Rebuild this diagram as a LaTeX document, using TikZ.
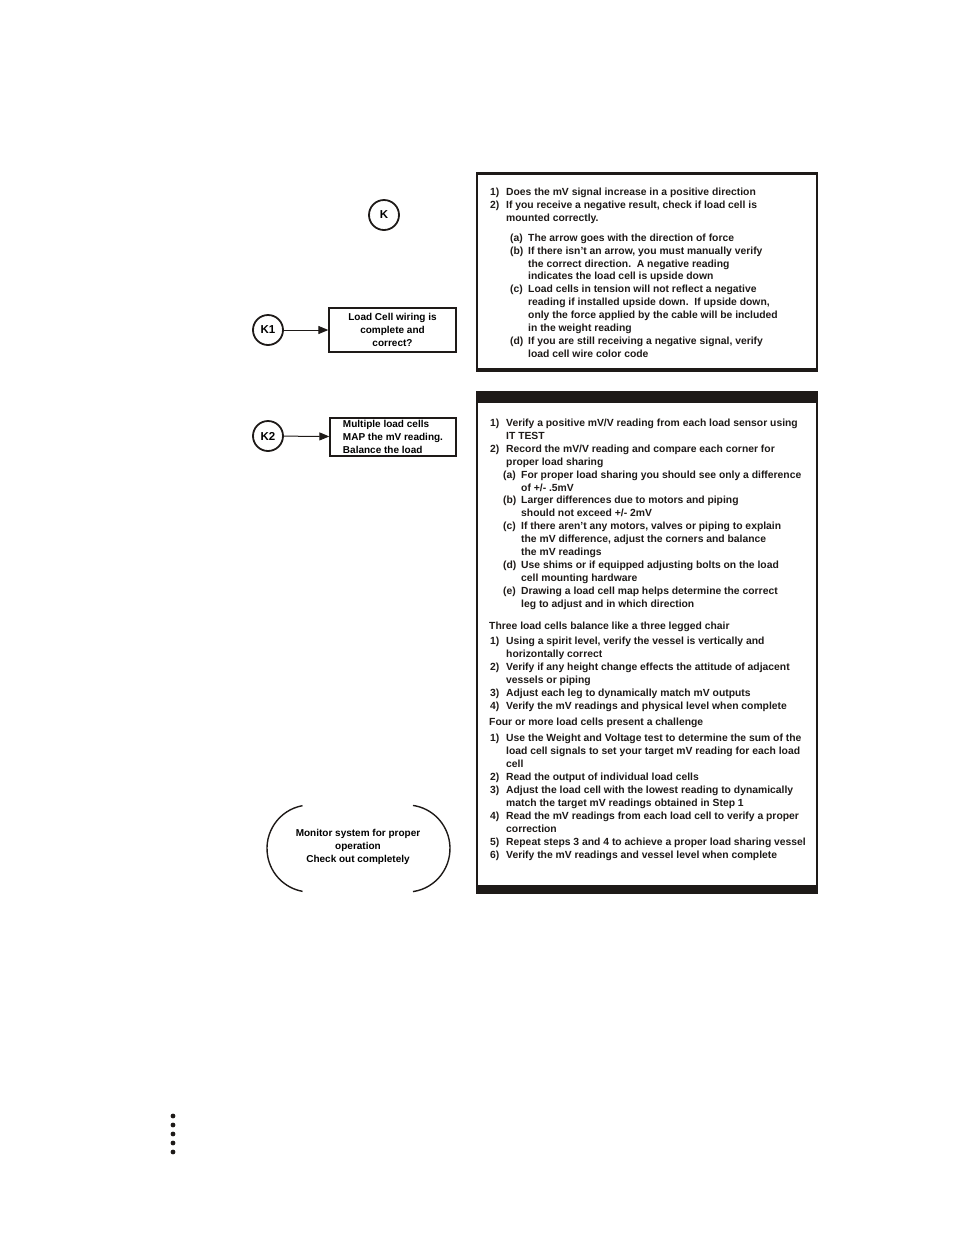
\documentclass[tikz,border=0pt]{standalone}
\usepackage{fontspec}
\setmainfont{Liberation Sans}
\usetikzlibrary{arrows.meta}
\definecolor{ink}{RGB}{30,26,24}
\newcommand\tline[4]{\node[txt] (#1) at (#2,#3) {#4};}
\newcommand\nm[1]{\makebox[16pt][l]{#1}}
\newcommand\sm[1]{\makebox[18pt][l]{#1}}
\begin{document}
\begin{tikzpicture}[x=1pt,y=-1pt,
  txt/.style={anchor=base west,inner sep=0pt,text=ink,font=\fontsize{10.35}{13}\selectfont\bfseries},
  conn/.style={draw=ink,circle,line width=1.8pt,minimum size=30pt,inner sep=0pt,font=\fontsize{11.5}{13}\selectfont\bfseries},
  procbox/.style={draw=ink,line width=1.3pt,inner sep=0pt,font=\fontsize{10}{13}\selectfont\bfseries},
  arr/.style={draw=ink,line width=1pt,-{Triangle[length=10pt,width=8pt]}},
  panel/.style={draw=ink,line width=1.5pt},
  bar/.style={fill=ink}]
\useasboundingbox (0,0) rectangle (954,1235);

% connectors and process boxes
\node[conn] (k) at (384,215) {K};
\node[conn] (k1) at (268,330) {K1};
\node[conn] (k2) at (268,436) {K2};
\node[procbox,minimum width=127pt,minimum height=44pt,align=center] (k1box) at (392.5,330)
  {Load Cell wiring is\\complete and\\correct?};
\node[procbox,minimum width=126pt,minimum height=38pt,align=left] (k2box) at (393,437)
  {Multiple load cells\\MAP the mV reading.\\Balance the load};
\draw[arr] (k1) -- (k1box);
\draw[arr] (k2) -- (k2box);

% terminator
\draw[ink,line width=1.4pt] (302.53,805.66) arc[start angle=100,end angle=260,x radius=43pt,y radius=43.5pt];
\draw[ink,line width=1.4pt] (412.98,891.58) arc[start angle=-82,end angle=82,x radius=43pt,y radius=43.5pt];
\node[procbox,draw=none,align=center] (term) at (358,847)
  {Monitor system for proper\\operation\\Check out completely};

% panel 1
\draw[panel] (477,173) rectangle (817,370);
\fill[bar] (476.25,171.5) rectangle (817.75,174.5);
\fill[bar] (476.25,367.5) rectangle (817.75,371.5);
\tline{a1}{490}{195.5}{\nm{1)}Does the mV signal increase in a positive direction}
\tline{a2}{490}{208.5}{\nm{2)}If you receive a negative result, check if load cell is}
\tline{a3}{506}{221.5}{mounted correctly.}
\tline{a4}{510}{241.5}{\sm{(a)}The arrow goes with the direction of force}
\tline{a5}{510}{254.5}{\sm{(b)}If there isn’t an arrow, you must manually verify}
\tline{a6}{528}{267.5}{the correct direction.\ \ A negative reading}
\tline{a7}{528}{279.5}{indicates the load cell is upside down}
\tline{a8}{510}{292.5}{\sm{(c)}Load cells in tension will not reflect a negative}
\tline{a9}{528}{305.5}{reading if installed upside down.\ \ If upside down,}
\tline{a10}{528}{318.5}{only the force applied by the cable will be included}
\tline{a11}{528}{331.5}{in the weight reading}
\tline{a12}{510}{344.5}{\sm{(d)}If you are still receiving a negative signal, verify}
\tline{a13}{528}{357.5}{load cell wire color code}

% panel 2
\draw[panel] (477,392) rectangle (817,893);
\fill[bar] (476.25,392) rectangle (817.75,403);
\fill[bar] (476.25,885) rectangle (817.75,893);
\tline{b1}{490}{426.5}{\nm{1)}Verify a positive mV/V reading from each load sensor using}
\tline{b2}{506}{439.5}{IT TEST}
\tline{b3}{490}{452.5}{\nm{2)}Record the mV/V reading and compare each corner for}
\tline{b4}{506}{465.5}{proper load sharing}
\tline{b5}{503}{478.5}{\sm{(a)}For proper load sharing you should see only a difference}
\tline{b6}{521}{491.5}{of +/- .5mV}
\tline{b7}{503}{503.5}{\sm{(b)}Larger differences due to motors and piping}
\tline{b8}{521}{516.5}{should not exceed +/- 2mV}
\tline{b9}{503}{529.5}{\sm{(c)}If there aren’t any motors, valves or piping to explain}
\tline{b10}{521}{542.5}{the mV difference, adjust the corners and balance}
\tline{b11}{521}{555.5}{the mV readings}
\tline{b12}{503}{568.5}{\sm{(d)}Use shims or if equipped adjusting bolts on the load}
\tline{b13}{521}{581.5}{cell mounting hardware}
\tline{b14}{503}{594.5}{\sm{(e)}Drawing a load cell map helps determine the correct}
\tline{b15}{521}{607.5}{leg to adjust and in which direction}
\tline{b16}{489}{629.5}{Three load cells balance like a three legged chair}
\tline{b17}{490}{644.5}{\nm{1)}Using a spirit level, verify the vessel is vertically and}
\tline{b18}{506}{657.5}{horizontally correct}
\tline{b19}{490}{670.5}{\nm{2)}Verify if any height change effects the attitude of adjacent}
\tline{b20}{506}{683.5}{vessels or piping}
\tline{b21}{490}{696.5}{\nm{3)}Adjust each leg to dynamically match mV outputs}
\tline{b22}{490}{709.5}{\nm{4)}Verify the mV readings and physical level when complete}
\tline{b23}{489}{725.5}{Four or more load cells present a challenge}
\tline{b24}{490}{741.5}{\nm{1)}Use the Weight and Voltage test to determine the sum of the}
\tline{b25}{506}{754.5}{load cell signals to set your target mV reading for each load}
\tline{b26}{506}{767.5}{cell}
\tline{b27}{490}{780.5}{\nm{2)}Read the output of individual load cells}
\tline{b28}{490}{793.5}{\nm{3)}Adjust the load cell with the lowest reading to dynamically}
\tline{b29}{506}{806.5}{match the target mV readings obtained in Step 1}
\tline{b30}{490}{819.5}{\nm{4)}Read the mV readings from each load cell to verify a proper}
\tline{b31}{506}{832.5}{correction}
\tline{b32}{490}{845.5}{\nm{5)}Repeat steps 3 and 4 to achieve a proper load sharing vessel}
\tline{b33}{490}{858.5}{\nm{6)}Verify the mV readings and vessel level when complete}

% dots
\foreach \yy in {1116,1125,1134,1143,1152}
  \fill[ink] (173,\yy) circle[radius=2.4pt];
\end{tikzpicture}
\end{document}
